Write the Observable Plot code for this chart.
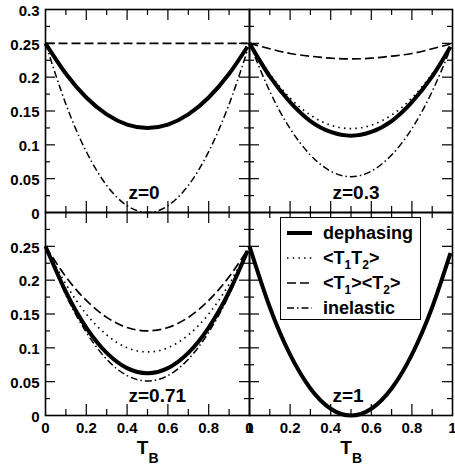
<!DOCTYPE html>
<html><head><meta charset="utf-8">
<script src="https://cdn.jsdelivr.net/npm/d3@7"></script>
<script src="https://cdn.jsdelivr.net/npm/@observablehq/plot@0.6"></script>
<style>
body{margin:0;background:#fff;}
#wrap{position:relative;width:455px;height:466px;font-family:"Liberation Sans",Arial,sans-serif;font-weight:bold;}
#wrap svg{position:absolute;left:0;top:0;}
.legend{position:absolute;left:280px;top:217px;width:141px;height:103px;box-sizing:border-box;border:1px solid #000;background:#fff;}
.row{position:absolute;left:6px;height:20px;display:flex;align-items:center;font-size:18px;}
.row svg{position:static !important;margin-right:11px;}
.row sub{font-size:12px;vertical-align:-5px;line-height:0;}
</style></head><body><div id="wrap"></div>
<script>
// ---- data ----
const TB = [0, 0.1, 0.2, 0.3, 0.4, 0.5, 0.6, 0.7, 0.8, 0.9, 0.99];
const zLabels = ["z=0", "z=0.3", "z=0.71", "z=1"];
const seriesNames = ["dephasing", "<T1T2>", "<T1><T2>", "inelastic"];

const dephasing_z0   = [0.25, 0.205, 0.17, 0.145, 0.13, 0.125, 0.13, 0.145, 0.17, 0.205, 0.245];
const t1t2_z0        = [0.25, 0.205, 0.17, 0.145, 0.13, 0.125, 0.13, 0.145, 0.17, 0.205, 0.245];
const t1t2avg_z0     = [0.25, 0.25, 0.25, 0.25, 0.25, 0.25, 0.25, 0.25, 0.25, 0.25, 0.25];
const inelastic_z0   = [0.25, 0.16, 0.09, 0.04, 0.01, 0.0, 0.01, 0.04, 0.09, 0.16, 0.24];

const dephasing_z03  = [0.25, 0.201, 0.163, 0.135, 0.119, 0.1135, 0.119, 0.135, 0.163, 0.201, 0.245];
const t1t2_z03       = [0.25, 0.205, 0.169, 0.144, 0.129, 0.124, 0.129, 0.144, 0.169, 0.205, 0.245];
const t1t2avg_z03    = [0.25, 0.242, 0.235, 0.231, 0.228, 0.227, 0.228, 0.231, 0.235, 0.242, 0.249];
const inelastic_z03  = [0.25, 0.179, 0.124, 0.085, 0.061, 0.053, 0.061, 0.085, 0.124, 0.179, 0.242];

const dephasing_z071 = [0.25, 0.1825, 0.13, 0.0925, 0.07, 0.0625, 0.07, 0.0925, 0.13, 0.1825, 0.243];
const t1t2_z071      = [0.25, 0.194, 0.15, 0.119, 0.1, 0.094, 0.1, 0.119, 0.15, 0.194, 0.244];
const t1t2avg_z071   = [0.25, 0.205, 0.17, 0.145, 0.13, 0.125, 0.13, 0.145, 0.17, 0.205, 0.245];
const inelastic_z071 = [0.25, 0.178, 0.123, 0.083, 0.059, 0.051, 0.059, 0.083, 0.123, 0.178, 0.242];

const dephasing_z1   = [0.25, 0.16, 0.09, 0.04, 0.01, 0.0, 0.01, 0.04, 0.09, 0.16, 0.24];
const t1t2_z1        = [0.25, 0.16, 0.09, 0.04, 0.01, 0.0, 0.01, 0.04, 0.09, 0.16, 0.24];
const t1t2avg_z1     = [0.25, 0.16, 0.09, 0.04, 0.01, 0.0, 0.01, 0.04, 0.09, 0.16, 0.24];
const inelastic_z1   = [0.25, 0.16, 0.09, 0.04, 0.01, 0.0, 0.01, 0.04, 0.09, 0.16, 0.24];

const xTickLabels = [0, 0.2, 0.4, 0.6, 0.8, 1];
const xMinorTicks = [0.1, 0.3, 0.5, 0.7, 0.9];
const xMajorTicks = [0.2, 0.4, 0.6, 0.8];
const yTickLabelsTop = [0, 0.05, 0.1, 0.15, 0.2, 0.25, 0.3];
const yTickLabelsBottom = [0, 0.05, 0.1, 0.15, 0.2, 0.25];
const yMajorTicks = [0.05, 0.1, 0.15, 0.2, 0.25];
const yMinorTicks = [0.025, 0.075, 0.125, 0.175, 0.225, 0.275];

// ---- layout / style ----
const W = 455, H = 466;
const xL = 45, xM = 249, xR = 452, yT = 9, yM = 212, yB = 415;
const FONT = '"Liberation Sans", Arial, sans-serif';
const styles = {
  "dephasing": {strokeWidth: 4, dash: null},
  "<T1T2>": {strokeWidth: 1.7, dash: "1.5,4.2"},
  "<T1><T2>": {strokeWidth: 1.7, dash: "9,4"},
  "inelastic": {strokeWidth: 1.5, dash: "7,3,1.5,3"}
};
const drawOrder = ["<T1><T2>", "<T1T2>", "inelastic", "dephasing"];

const panelSeries = [
  [dephasing_z0, t1t2_z0, t1t2avg_z0, inelastic_z0],
  [dephasing_z03, t1t2_z03, t1t2avg_z03, inelastic_z03],
  [dephasing_z071, t1t2_z071, t1t2avg_z071, inelastic_z071],
  [dephasing_z1, t1t2_z1, t1t2avg_z1, inelastic_z1]
];

const fmt = d => String(d);
const wrap = document.getElementById("wrap");

panelSeries.forEach((arrs, i) => {
  const col = i % 2, row = Math.floor(i / 2);
  const left = col ? xM : xL, right = col ? xR : xM;
  const top = row ? yM : yT, bottom = row ? yB : yM;
  const fw = right - left, fh = bottom - top;
  const rows = [];
  seriesNames.forEach((name, k) => arrs[k].forEach((v, j) => rows.push({series: name, T: TB[j], v})));
  const marks = [
    Plot.tickX(xMajorTicks, {x: d => d, insetTop: fh - 11, strokeWidth: 1.2}),
    Plot.tickX(xMinorTicks, {x: d => d, insetTop: fh - 6, strokeWidth: 1.2}),
    Plot.tickX(xMajorTicks, {x: d => d, insetBottom: fh - 11, strokeWidth: 1.2}),
    Plot.tickX(xMinorTicks, {x: d => d, insetBottom: fh - 6, strokeWidth: 1.2}),
    Plot.tickY(yMajorTicks, {y: d => d, insetRight: fw - 10, strokeWidth: 1.2}),
    Plot.tickY(yMinorTicks, {y: d => d, insetRight: fw - 5, strokeWidth: 1.2}),
    Plot.tickY(yMajorTicks, {y: d => d, insetLeft: fw - 10, strokeWidth: 1.2}),
    Plot.tickY(yMinorTicks, {y: d => d, insetLeft: fw - 5, strokeWidth: 1.2}),
    Plot.frame({strokeWidth: 1.6})
  ];
  drawOrder.forEach(name => {
    const s = styles[name];
    marks.push(Plot.line(rows.filter(r => r.series === name), {
      x: "T", y: "v", curve: "natural", stroke: "black",
      strokeWidth: s.strokeWidth, strokeDasharray: s.dash, strokeLinecap: "butt"
    }));
  });
  marks.push(Plot.text([zLabels[i]], {
    text: d => d, frameAnchor: "bottom-left", textAnchor: "start", lineAnchor: "bottom",
    dx: 83, dy: -14, fontSize: 19, fontWeight: "bold", fontFamily: FONT
  }));
  if (col === 0) {
    marks.push(Plot.text(row ? yTickLabelsBottom : yTickLabelsTop, {
      y: d => d, text: fmt, frameAnchor: "left", textAnchor: "end", dx: -6, dy: 1.5,
      fontSize: 15, fontWeight: "bold", fontFamily: FONT, fill: "black"
    }));
  }
  if (row === 1) {
    marks.push(Plot.text(xTickLabels, {
      x: d => d, text: fmt, frameAnchor: "bottom", lineAnchor: "top", dy: 7,
      fontSize: 15, fontWeight: "bold", fontFamily: FONT, fill: "black"
    }));
    marks.push(Plot.text(["T"], {text: d => d, frameAnchor: "bottom", dx: -5, dy: 38, fontSize: 19, fontWeight: "bold", fontFamily: FONT, lineAnchor: "bottom"}));
    marks.push(Plot.text(["B"], {text: d => d, frameAnchor: "bottom", dx: 6, dy: 47, fontSize: 14, fontWeight: "bold", fontFamily: FONT, lineAnchor: "bottom"}));
  }
  const svg = Plot.plot({
    width: W, height: H,
    marginLeft: left, marginRight: W - right, marginTop: top, marginBottom: H - bottom,
    x: {domain: [0, 1], axis: null},
    y: {domain: [0, 0.3], axis: null},
    style: {background: "transparent", overflow: "visible", fontFamily: FONT, fontWeight: "bold", color: "black"},
    marks
  });
  wrap.appendChild(svg);
});

// ---- legend (bottom-right panel) ----
const legend = document.createElement("div");
legend.className = "legend";
const legendLabels = {
  "dephasing": "dephasing",
  "<T1T2>": "&lt;T<sub>1</sub>T<sub>2</sub>&gt;",
  "<T1><T2>": "&lt;T<sub>1</sub>&gt;&lt;T<sub>2</sub>&gt;",
  "inelastic": "inelastic"
};
seriesNames.forEach((name, k) => {
  const s = styles[name];
  const r = document.createElement("div");
  r.className = "row";
  r.style.top = (5 + k * 25) + "px";
  r.innerHTML = `<svg width="25" height="10"><line x1="0" x2="25" y1="5" y2="5" stroke="black" stroke-width="${s.strokeWidth}" ${s.dash ? `stroke-dasharray="${s.dash}"` : ""}/></svg><span>${legendLabels[name]}</span>`;
  legend.appendChild(r);
});
wrap.appendChild(legend);
</script>
</body></html>
